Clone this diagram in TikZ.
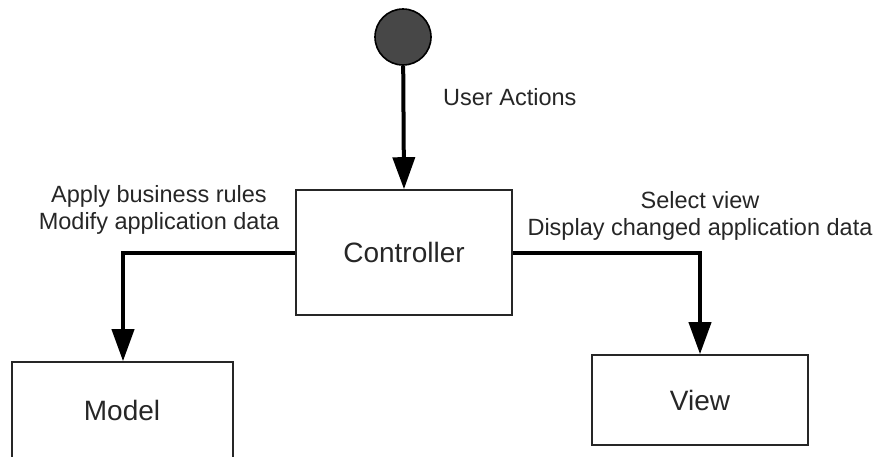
\documentclass[tikz,border=0pt]{standalone}
\usepackage{fontspec}
\setmainfont{Liberation Sans}
\usetikzlibrary{arrows.meta}
\begin{document}
\begin{tikzpicture}[x=1pt,y=-1pt,
  box/.style={draw=black!85,line width=1.6pt,rectangle,inner sep=0pt,font=\fontsize{28}{32}\selectfont,text=black!85},
  flow/.style={line width=4pt,black,-{Triangle[length=32pt,width=22pt]}},
  lbl/.style={font=\fontsize{23.5}{27}\selectfont,text=black!85,align=center,inner sep=0pt}]
\useasboundingbox (0,0) rectangle (874,456);
\clip (0,0) rectangle (874,456);
\node[circle,draw=black,line width=1.6pt,fill=black!72,minimum size=56pt,inner sep=0pt] (start) at (403,37) {};
\node[box,minimum width=216pt,minimum height=125pt] (ctrl) at (404,252.5) {Controller};
\node[box,minimum width=221pt,minimum height=110pt] (model) at (122.5,417) {};
\node[font=\fontsize{28}{32}\selectfont,text=black!85] (modeltxt) at (122,410) {Model};
\node[box,minimum width=216pt,minimum height=90pt] (view) at (700,400) {View};
\coordinate (lc) at (123,253);
\coordinate (rc) at (700,253);
\draw[flow] (start) -- (ctrl.north);
\draw[flow] (ctrl.west |- lc) -- (lc) -- (model.north -| lc);
\draw[flow] (ctrl.east |- rc) -- (rc) -- (view.north);
\node[lbl,anchor=west] (ua) at (443,97) {User Actions};
\node[lbl] (l1) at (159,210) {Apply business rules\\Modify application data};
\node[lbl] (l2) at (700,216) {Select view\\Display changed application data};
\end{tikzpicture}
\end{document}
